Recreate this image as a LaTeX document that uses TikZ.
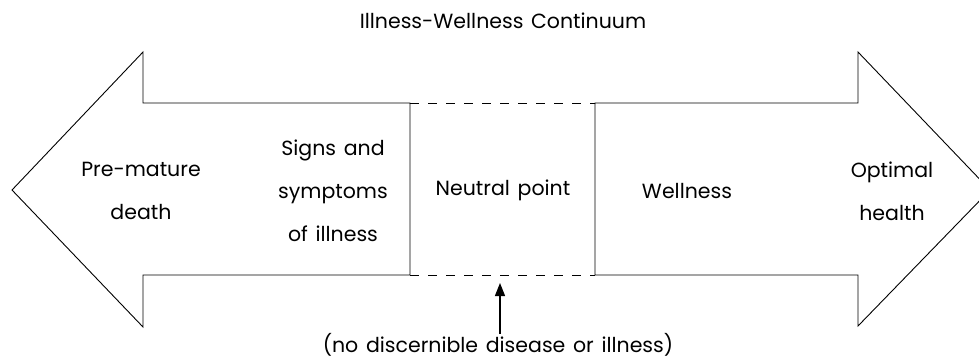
\documentclass[tikz,border=0pt]{standalone}
\usepackage{fontspec}
\setmainfont{Poppins}[WordSpace={1.4}]
\usetikzlibrary{arrows.meta}
\begin{document}
\begin{tikzpicture}[x=1pt,y=-1pt,
  lbl/.style={font=\fontsize{20.5}{43}\selectfont, align=center, inner sep=0pt},
  outline/.style={line width=0.9pt, line join=miter},
  dashline/.style={line width=0.9pt, dash pattern=on 9pt off 9pt}]
\useasboundingbox (0,0) rectangle (979,360);
\begin{scope}
\clip (0,0) rectangle (979,360);
% left arrow
\draw[outline] (410,103) -- (143,103) -- (143,52) -- (12,190) -- (143,327) -- (143,275) -- (410,275) -- cycle;
% right arrow
\draw[outline] (595,275) -- (595,103) -- (858,103) -- (858,52) -- (990,190) -- (858,326) -- (858,275) -- cycle;
\end{scope}
\coordinate (dtl) at (410,103);
\coordinate (dtr) at (595,103);
\coordinate (dbl) at (410,275);
\coordinate (dbr) at (595,275);
\draw[dashline] (dtl) -- (dtr);
\draw[dashline] (dbl) -- (dbr);
\node[lbl] (title) at (503,21) {Illness-Wellness Continuum};
\node[lbl] (death) at (141,191) {Pre-mature\\death};
\node[lbl] (signs) at (333,191) {Signs and\\symptoms\\of illness};
\node[lbl] (neutral) at (503,190) {Neutral point};
\node[lbl] (well) at (687,191) {Wellness};
\node[lbl] (opt) at (892,191) {Optimal\\health};
\node[lbl, anchor=base] (note) at (498,352) {(no discernible disease or illness)};
\coordinate (tip) at (500,283);
\coordinate (tail) at (500,334);
\draw[line width=1.3pt, -{Triangle[length=13pt,width=10pt]}] (tail) -- (tip);
\end{tikzpicture}
\end{document}
